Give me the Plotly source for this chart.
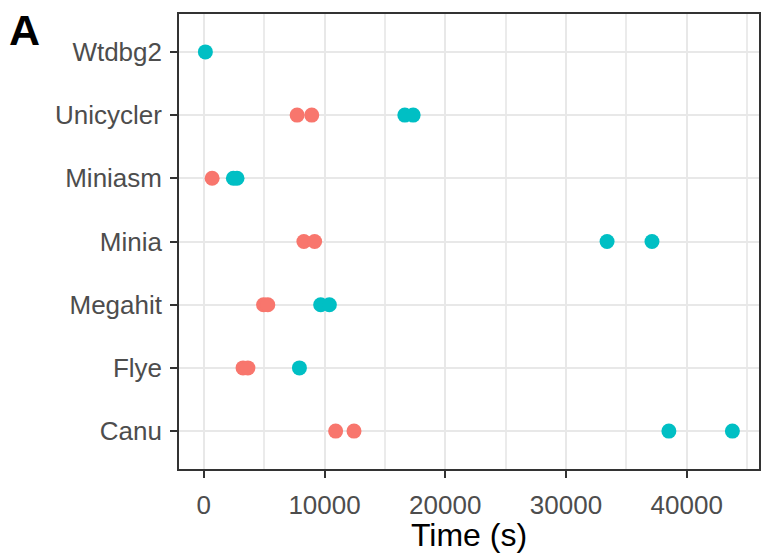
import plotly.graph_objects as go

assemblers = ["Canu", "Flye", "Megahit", "Minia", "Miniasm", "Unicycler", "Wtdbg2"]

# red group (time in seconds)
red_names = ["Canu", "Canu", "Flye", "Flye", "Megahit", "Megahit", "Minia", "Minia",
             "Miniasm", "Unicycler", "Unicycler"]
red_times = [10920, 12440, 3250, 3650, 4950, 5300, 8290, 9180, 690, 7730, 8940]

# cyan group (time in seconds)
cyan_names = ["Canu", "Canu", "Flye", "Megahit", "Megahit", "Minia", "Minia",
              "Miniasm", "Miniasm", "Unicycler", "Unicycler", "Wtdbg2"]
cyan_times = [38520, 43780, 7920, 9680, 10400, 33400, 37120, 2450, 2750, 16650, 17340, 130]

x_ticks = [0, 10000, 20000, 30000, 40000]

RED = "#F8766D"
CYAN = "#00BFC4"
FONT = "Liberation Sans, Arial, Helvetica, sans-serif"

L, R, T, B = 179, 3, 14, 83
W, H = 764, 553

fig = go.Figure()
fig.add_trace(go.Scatter(x=red_times, y=red_names, mode="markers", name="Group 1",
                         marker=dict(color=RED, size=15, line=dict(width=0))))
fig.add_trace(go.Scatter(x=cyan_times, y=cyan_names, mode="markers", name="Group 2",
                         marker=dict(color=CYAN, size=15, line=dict(width=0))))

fig.update_layout(
    width=W, height=H,
    margin=dict(l=L, r=R, t=T, b=B),
    paper_bgcolor="white", plot_bgcolor="white",
    showlegend=False,
    font=dict(family=FONT, color="#4D4D4D"),
    xaxis=dict(
        range=[-2054, 45984],
        tickvals=x_ticks, ticktext=[str(v) for v in x_ticks],
        tickfont=dict(size=26, color="#4D4D4D"),
        ticks="outside", ticklen=7, tickwidth=1.6, tickcolor="#333333",
        ticklabelstandoff=5,
        showgrid=True, gridcolor="#E8E8E8", gridwidth=2.2,
        minor=dict(tickvals=[5000, 15000, 25000, 35000, 45000], showgrid=True,
                   gridcolor="#EBEBEB", gridwidth=1.5, ticks=""),
        showline=True, linecolor="#333333", linewidth=1.6, mirror=True,
        zeroline=False,
        title=dict(text="Time (s)", font=dict(size=32, color="#000000"), standoff=8),
    ),
    yaxis=dict(
        type="category", categoryorder="array", categoryarray=assemblers,
        range=[-0.6, 6.6],
        tickfont=dict(size=26, color="#4D4D4D"),
        ticks="outside", ticklen=7, tickwidth=1.6, tickcolor="#333333",
        showgrid=True, gridcolor="#E8E8E8", gridwidth=2.2,
        showline=True, linecolor="#333333", linewidth=1.6, mirror=True,
        zeroline=False, ticklabelstandoff=3,
    ),
    annotations=[dict(text="<b>A</b>",
                      x=(6 - L) / (W - L - R), y=1 + (T - 4) / (H - T - B),
                      xref="paper", yref="paper",
                      xanchor="left", yanchor="top", showarrow=False,
                      font=dict(size=43, color="#000000", family=FONT))],
)

fig.write_html("out.html")
